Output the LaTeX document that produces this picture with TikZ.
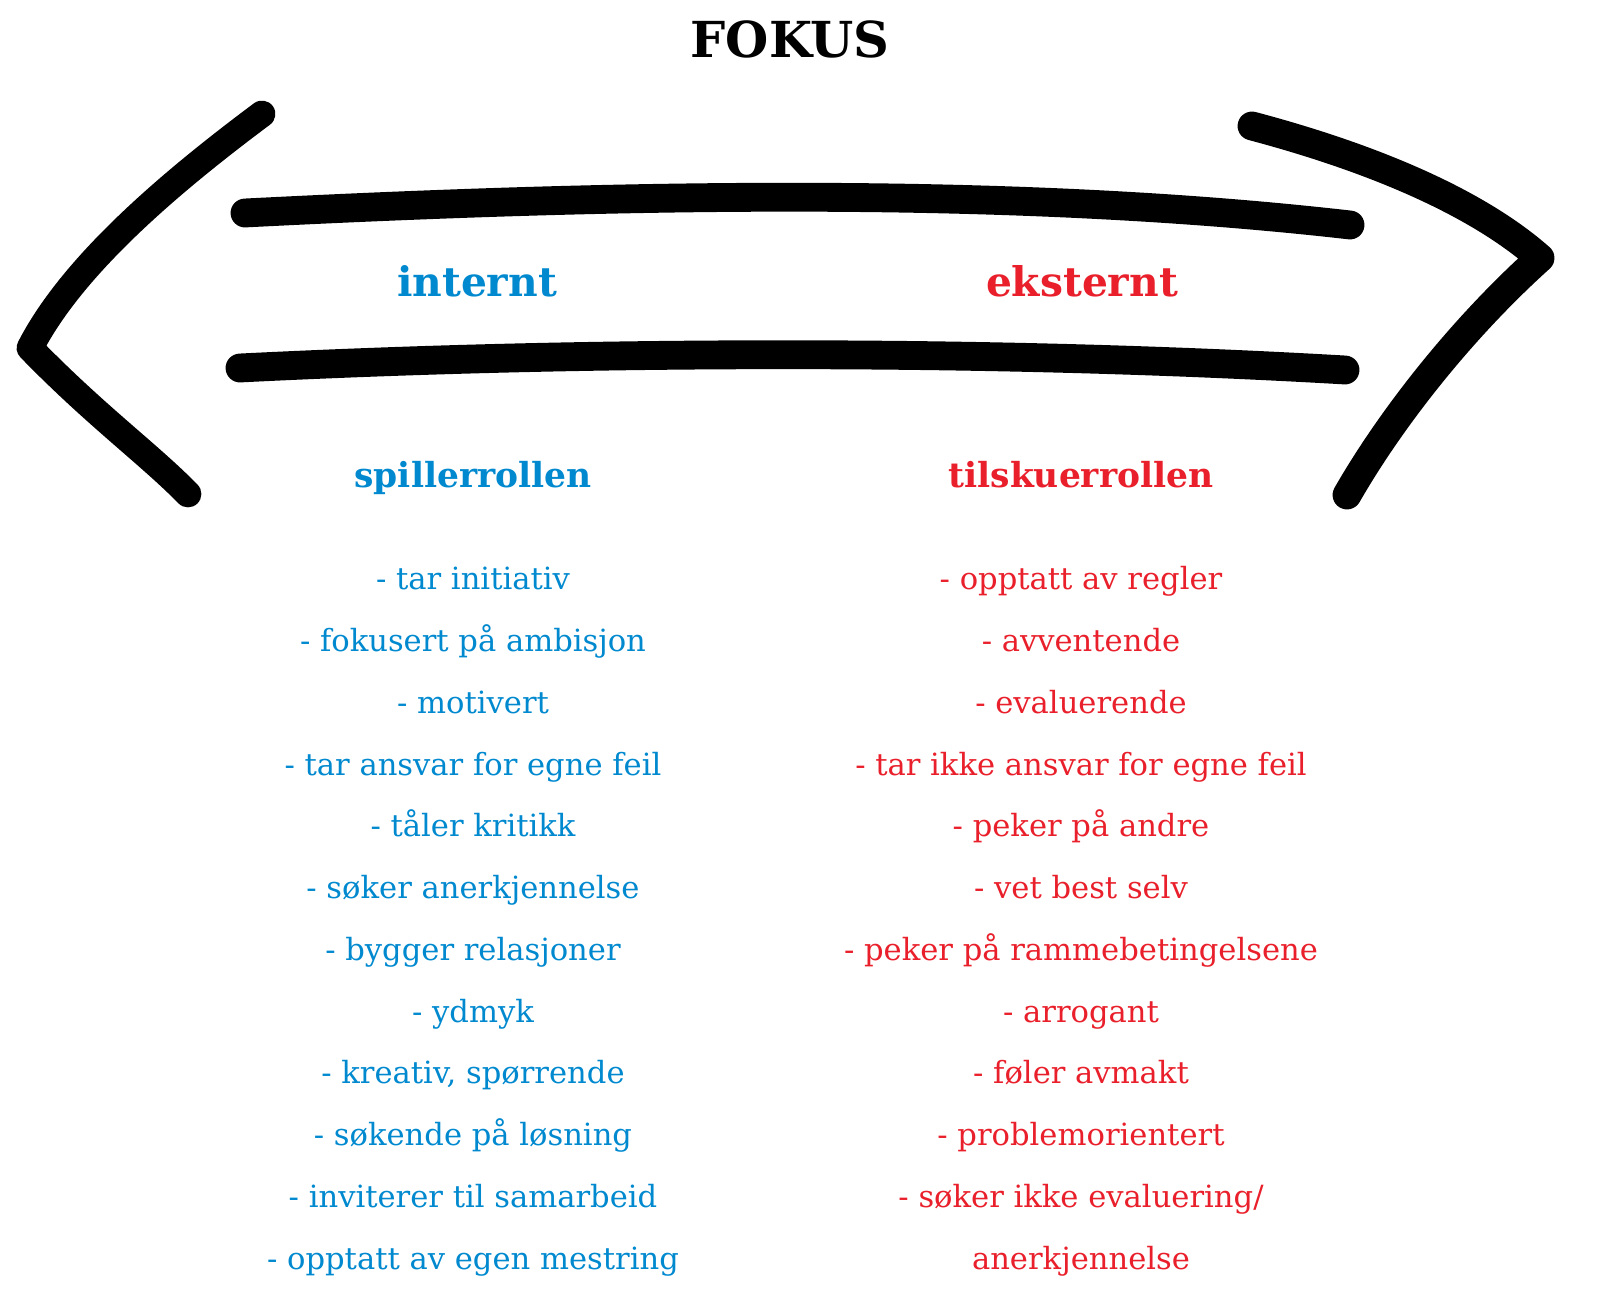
\documentclass[tikz,border=0pt]{standalone}
\usepackage{fontspec}
\setmainfont{DejaVu Serif}
\usetikzlibrary{positioning}
\definecolor{innblue}{RGB}{0,137,207}
\definecolor{utred}{RGB}{233,32,43}
\tikzset{
    stroke/.style={line width=7.6pt, line cap=round, line join=round, black},
    bar/.style={line width=8.2pt, line cap=round, black},
    title/.style={font=\bfseries\fontsize{14.1}{16}\selectfont, anchor=base},
    side/.style={font=\bfseries\fontsize{11.6}{13}\selectfont, anchor=base},
    role/.style={font=\bfseries\fontsize{9.8}{11}\selectfont, anchor=base},
    item/.style={font=\fontsize{8.7}{10}\selectfont, inner sep=0pt, text height=0.22cm, text depth=0.06cm},
}
\begin{document}
\begin{tikzpicture}
        [x=0.01cm, y=-0.01cm, node distance=0.323cm]
        \useasboundingbox (0,0) rectangle (1600,1304);

        % Title
        \node[title] (fokus) at (790,58) {FOKUS};

        % Arrow heads
        \draw[stroke] (262,114) .. controls (160,190) and (70,270) .. (30,348)
            .. controls (95,415) and (150,455) .. (188,494);
        \draw[stroke, line width=8.2pt] (1252,126) .. controls (1380,160) and (1480,205) .. (1540,258)
            .. controls (1460,330) and (1390,420) .. (1347,495);

        % Arrow shafts
        \draw[bar] (245,213) .. controls (600,195) and (1000,185) .. (1350,225);
        \draw[bar] (240,368) .. controls (600,350) and (1000,350) .. (1345,370);

        % Sides
        \node[side, text=innblue] (internt) at (477,297) {internt};
        \node[side, text=utred] (eksternt) at (1082,297) {eksternt};

        % Roles
        \node[role, text=innblue] (spiller) at (473,488) {spillerrollen};
        \node[role, text=utred] (tilskuer) at (1081,488) {tilskuerrollen};

        % Player list
        \node[item, text=innblue, anchor=base] (b1) at (473,590) {- tar initiativ};
        \node[item, text=innblue, below=of b1] (b2) {- fokusert på ambisjon};
        \node[item, text=innblue, below=of b2] (b3) {- motivert};
        \node[item, text=innblue, below=of b3] (b4) {- tar ansvar for egne feil};
        \node[item, text=innblue, below=of b4] (b5) {- tåler kritikk};
        \node[item, text=innblue, below=of b5] (b6) {- søker anerkjennelse};
        \node[item, text=innblue, below=of b6] (b7) {- bygger relasjoner};
        \node[item, text=innblue, below=of b7] (b8) {- ydmyk};
        \node[item, text=innblue, below=of b8] (b9) {- kreativ, spørrende};
        \node[item, text=innblue, below=of b9] (b10) {- søkende på løsning};
        \node[item, text=innblue, below=of b10] (b11) {- inviterer til samarbeid};
        \node[item, text=innblue, below=of b11] (b12) {- opptatt av egen mestring};

        % Spectator list
        \node[item, text=utred, anchor=base] (r1) at (1081,590) {- opptatt av regler};
        \node[item, text=utred, below=of r1] (r2) {- avventende};
        \node[item, text=utred, below=of r2] (r3) {- evaluerende};
        \node[item, text=utred, below=of r3] (r4) {- tar ikke ansvar for egne feil};
        \node[item, text=utred, below=of r4] (r5) {- peker på andre};
        \node[item, text=utred, below=of r5] (r6) {- vet best selv};
        \node[item, text=utred, below=of r6] (r7) {- peker på rammebetingelsene};
        \node[item, text=utred, below=of r7] (r8) {- arrogant};
        \node[item, text=utred, below=of r8] (r9) {- føler avmakt};
        \node[item, text=utred, below=of r9] (r10) {- problemorientert};
        \node[item, text=utred, below=of r10] (r11) {- søker ikke evaluering/};
        \node[item, text=utred, below=of r11] (r12) {anerkjennelse};
\end{tikzpicture}
\end{document}
